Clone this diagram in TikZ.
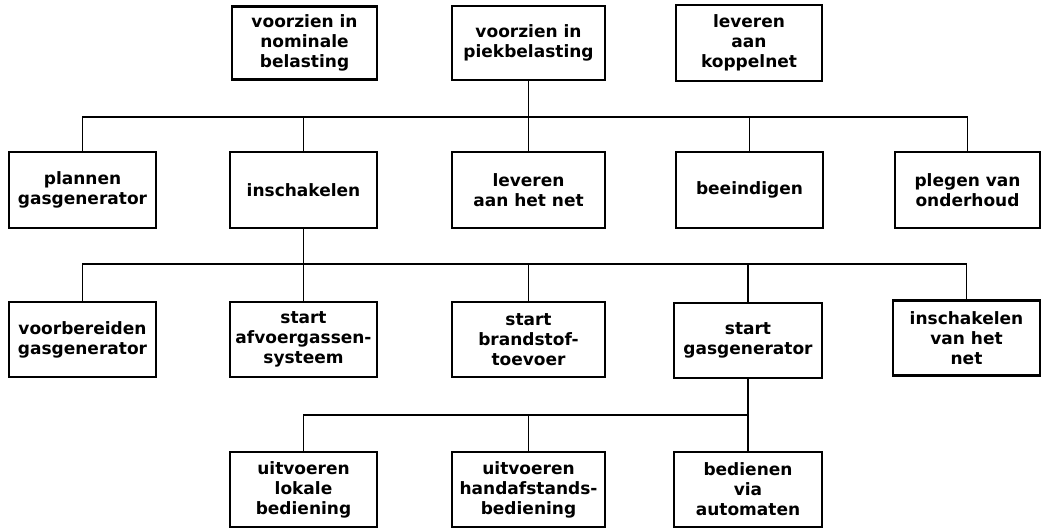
\documentclass[tikz,border=0pt]{standalone}
\usepackage{fontspec}
\setmainfont{DejaVu Sans}[BoldFont={DejaVu Sans Bold}]
\begin{document}
\begin{tikzpicture}[x=1pt,y=1pt,
  box/.style={draw, line width=2.4pt, rectangle, inner sep=0pt,
    minimum height=75pt, align=center,
    font=\bfseries\fontsize{17}{20}\selectfont},
  narrow/.style={box, minimum width=147pt},
  wide/.style={box, minimum width=153pt},
  link/.style={line width=1.8pt}]
\useasboundingbox (0,0) rectangle (1051,-529);

% goals
\node[narrow, minimum width=145pt, minimum height=73pt] (nom)  at (304.5,-43) {voorzien in\\nominale\\belasting};
\node[wide, minimum height=74pt] (piek) at (528.5,-43) {voorzien in\\piekbelasting};
\node[narrow, minimum width=146pt, minimum height=76pt] (kop)  at (749,-43) {leveren\\aan\\koppelnet};

% main functions
\node[narrow, minimum height=76pt] (plan) at (82.5,-190)  {plannen\\gasgenerator};
\node[narrow, minimum height=76pt] (insch) at (303.5,-190) {inschakelen};
\node[wide,   minimum height=76pt] (lev)  at (528.5,-190) {leveren\\aan het net};
\node[narrow, minimum height=76pt] (beei) at (749.5,-190) {beeindigen};
\node[narrow, minimum width=145pt, minimum height=76pt] (onder) at (967.5,-190) {plegen van\\onderhoud};

% sub-functions of inschakelen
\node[narrow] (voorb) at (82.5,-339.5)  {voorbereiden\\gasgenerator};
\node[narrow] (afv)   at (303.5,-339.5) {start\\afvoergassen-\\systeem};
\node[wide]   (brand) at (528.5,-339.5) {start\\brandstof-\\toevoer};
\node[narrow, minimum width=148pt] (gasg) at (748,-340.5) {start\\gasgenerator};
\node[narrow] (vhnet) at (966.5,-338) {inschakelen\\van het\\net};

% sub-functions of start gasgenerator
\node[narrow] (lok)   at (303.5,-489.5) {uitvoeren\\lokale\\bediening};
\node[wide]   (hand)  at (528.5,-489.5) {uitvoeren\\handafstands-\\bediening};
\node[narrow, minimum width=148pt] (aut) at (748,-489.5) {bedienen\\via\\automaten};

% bus levels
\coordinate (busA) at (0,-117);
\coordinate (busB) at (0,-264);
\coordinate (busC) at (0,-415);

% piekbelasting -> main functions
\draw[link] (piek.south) -- (piek.south |- busA);
\draw[link] (plan.north) |- (onder.north |- busA) -- (onder.north);
\draw[link] (insch.north) -- (insch.north |- busA);
\draw[link] (lev.north) -- (lev.north |- busA);
\draw[link] (beei.north) -- (beei.north |- busA);

% inschakelen -> sub-functions
\draw[link] (insch.south) -- (insch.south |- busB);
\draw[link] (voorb.north) |- (vhnet.north |- busB) -- (vhnet.north);
\draw[link] (afv.north) -- (afv.north |- busB);
\draw[link] (brand.north) -- (brand.north |- busB);
\draw[link] (gasg.north) -- (gasg.north |- busB);

% start gasgenerator -> operating modes
\draw[link] (gasg.south) -- (aut.north);
\draw[link] (lok.north) |- (aut.north |- busC);
\draw[link] (hand.north) -- (hand.north |- busC);
\end{tikzpicture}
\end{document}
